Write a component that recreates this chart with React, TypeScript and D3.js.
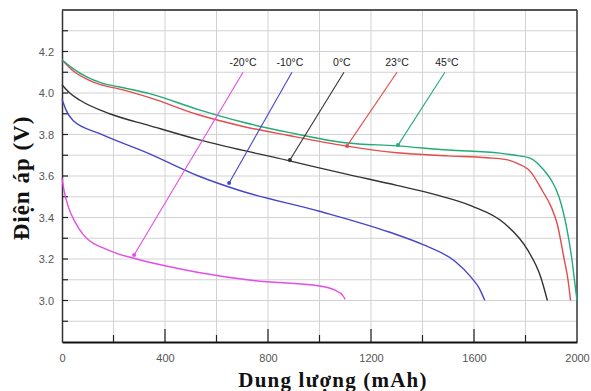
import React, { useEffect, useRef } from 'react';
import * as d3 from 'd3';

// capacity (mAh) / voltage (V) per temperature
const cap45 = [0, 40, 100, 150, 220, 340, 530, 700, 880, 1100, 1300, 1500, 1700, 1760, 1820, 1870, 1900, 1930, 1960, 1980, 1990, 2000];
const volt45 = [4.16, 4.12, 4.075, 4.05, 4.03, 3.997, 3.92, 3.86, 3.81, 3.76, 3.745, 3.725, 3.71, 3.70, 3.685, 3.63, 3.58, 3.5, 3.35, 3.2, 3.1, 3.0];

const cap23 = [0, 40, 100, 150, 220, 340, 530, 700, 880, 1100, 1300, 1500, 1650, 1730, 1770, 1820, 1865, 1900, 1923, 1950, 1965, 1975];
const volt23 = [4.16, 4.11, 4.065, 4.04, 4.02, 3.978, 3.895, 3.84, 3.795, 3.745, 3.712, 3.697, 3.688, 3.678, 3.66, 3.62, 3.53, 3.45, 3.37, 3.2, 3.1, 3.0];

const cap0 = [0, 30, 70, 185, 340, 530, 880, 1100, 1300, 1450, 1590, 1720, 1810, 1860, 1885];
const volt0 = [4.04, 4.0, 3.965, 3.9, 3.843, 3.775, 3.674, 3.61, 3.555, 3.51, 3.456, 3.37, 3.24, 3.11, 3.0];

const capM10 = [0, 15, 43, 147, 340, 530, 690, 1000, 1270, 1400, 1525, 1590, 1620, 1642];
const voltM10 = [3.97, 3.92, 3.867, 3.804, 3.707, 3.6, 3.53, 3.43, 3.33, 3.27, 3.19, 3.11, 3.06, 3.0];

const capM20 = [0, 8, 25, 50, 81, 185, 290, 405, 530, 750, 1000, 1060, 1090, 1100];
const voltM20 = [3.59, 3.53, 3.45, 3.38, 3.32, 3.24, 3.2, 3.166, 3.135, 3.095, 3.07, 3.05, 3.025, 3.005];

const seriesNames = ['-20°C', '-10°C', '0°C', '23°C', '45°C'];
const seriesColors = ['#e64ce6', '#4646c8', '#333333', '#e44b4b', '#22aa77'];
const seriesCaps = [capM20, capM10, cap0, cap23, cap45];
const seriesVolts = [voltM20, voltM10, volt0, volt23, volt45];

// annotation: label position and arrow tip (data coords)
const labelCaps = [703, 885, 1087, 1301, 1495];
const lineStartCaps = [703, 893, 1095, 1301, 1487];
const tipCaps = [280, 649, 885, 1107, 1305];
const tipVolts = [3.219, 3.566, 3.677, 3.745, 3.749];

const xTicks = [0, 400, 800, 1200, 1600, 2000];
const yTicks = [3.0, 3.2, 3.4, 3.6, 3.8, 4.0, 4.2];

function Chart() {
    const ref = useRef<SVGSVGElement>(null);

    useEffect(() => {
        const width = 591;
        const height = 391;
        const left = 62;
        const top = 10;
        const right = 577;
        const bottom = 342;

        const svg = d3.select(ref.current);
        svg.selectAll('*').remove();

        const x = d3.scaleLinear().domain([0, 2000]).range([left, right]);
        const y = d3.scaleLinear().domain([2.8, 4.4]).range([bottom, top]);

        svg.append('rect')
            .attr('width', width)
            .attr('height', height)
            .attr('fill', '#fff');

        // grid
        const grid = svg.append('g').attr('stroke', '#d2d2d2').attr('stroke-width', 1);
        d3.range(200, 2000, 200).forEach((v) => {
            grid.append('line')
                .attr('x1', x(v)).attr('x2', x(v))
                .attr('y1', top).attr('y2', bottom);
        });
        d3.range(1, 16).map((i) => 2.8 + i * 0.1).forEach((v) => {
            grid.append('line')
                .attr('x1', left).attr('x2', right)
                .attr('y1', y(v)).attr('y2', y(v));
        });

        // frame
        svg.append('line').attr('x1', left).attr('x2', right).attr('y1', top).attr('y2', top)
            .attr('stroke', '#555').attr('stroke-width', 2);
        svg.append('line').attr('x1', right).attr('x2', right).attr('y1', top).attr('y2', bottom)
            .attr('stroke', '#333').attr('stroke-width', 1.5);

        // axes with inward ticks
        const xAxis = d3.axisBottom(x).tickValues(xTicks).tickFormat(d3.format('d')).tickSize(0).tickPadding(12);
        const xg = svg.append('g').attr('transform', `translate(0,${bottom})`).call(xAxis);
        xg.select('.domain').attr('stroke', '#111').attr('stroke-width', 2);
        xg.selectAll('text')
            .attr('fill', '#555')
            .style('font-family', 'Liberation Sans, Arial, sans-serif')
            .style('font-size', '11px');
        d3.range(200, 2000, 200).forEach((v) => {
            svg.append('line')
                .attr('x1', x(v)).attr('x2', x(v))
                .attr('y1', bottom).attr('y2', bottom - (v % 400 === 0 ? 13 : 7))
                .attr('stroke', '#222').attr('stroke-width', 1.2);
        });

        const yAxis = d3.axisLeft(y).tickValues(yTicks).tickFormat(d3.format('.1f')).tickSize(0).tickPadding(8);
        const yg = svg.append('g').attr('transform', `translate(${left},0)`).call(yAxis);
        yg.select('.domain').attr('stroke', '#333').attr('stroke-width', 1.5);
        yg.selectAll('text')
            .attr('fill', '#555')
            .style('font-family', 'Liberation Sans, Arial, sans-serif')
            .style('font-size', '11px');
        d3.range(1, 16).map((i) => 2.8 + i * 0.1).forEach((v) => {
            svg.append('line')
                .attr('x1', left).attr('x2', left + 6)
                .attr('y1', y(v)).attr('y2', y(v))
                .attr('stroke', '#222').attr('stroke-width', 1.2);
        });

        // curves
        const line = d3.line<[number, number]>()
            .x((d) => x(d[0]))
            .y((d) => y(d[1]))
            .curve(d3.curveMonotoneX);

        seriesNames.forEach((name, i) => {
            const pts = seriesCaps[i].map((c, j) => [c, seriesVolts[i][j]] as [number, number]);
            svg.append('path')
                .datum(pts)
                .attr('d', line)
                .attr('fill', 'none')
                .attr('stroke', seriesColors[i])
                .attr('stroke-width', 1.4);
        });

        // annotations
        const labelVolt = 4.13;
        const lineStartVolt = 4.1;
        seriesNames.forEach((name, i) => {
            svg.append('line')
                .attr('x1', x(lineStartCaps[i])).attr('y1', y(lineStartVolt))
                .attr('x2', x(tipCaps[i])).attr('y2', y(tipVolts[i]))
                .attr('stroke', seriesColors[i])
                .attr('stroke-width', 1.1);
            svg.append('circle')
                .attr('cx', x(tipCaps[i])).attr('cy', y(tipVolts[i]))
                .attr('r', 2)
                .attr('fill', seriesColors[i]);
            svg.append('text')
                .attr('x', x(labelCaps[i]))
                .attr('y', y(labelVolt))
                .attr('text-anchor', 'middle')
                .attr('fill', '#222')
                .style('font-family', 'Liberation Sans, Arial, sans-serif')
                .style('font-size', '10.5px')
                .text(name);
        });

        // axis titles
        svg.append('text')
            .attr('x', 333)
            .attr('y', 387)
            .attr('text-anchor', 'middle')
            .attr('fill', '#111')
            .style('font-family', 'Liberation Serif, Times New Roman, serif')
            .style('font-weight', 'bold')
            .style('font-size', '21px')
            .style('letter-spacing', '1.2px')
            .text('Dung lượng (mAh)');

        svg.append('text')
            .attr('transform', 'translate(29,178) rotate(-90)')
            .attr('text-anchor', 'middle')
            .attr('fill', '#111')
            .style('font-family', 'Liberation Serif, Times New Roman, serif')
            .style('font-weight', 'bold')
            .style('font-size', '23px')
            .style('letter-spacing', '1px')
            .text('Điện áp (V)');
    }, []);

    return (
        <svg
            ref={ref}
            width={591}
            height={391}
            style={{ position: 'absolute', left: 0, top: 0, display: 'block' }}
        />
    );
}

export default function App() {
    return <Chart />;
}
